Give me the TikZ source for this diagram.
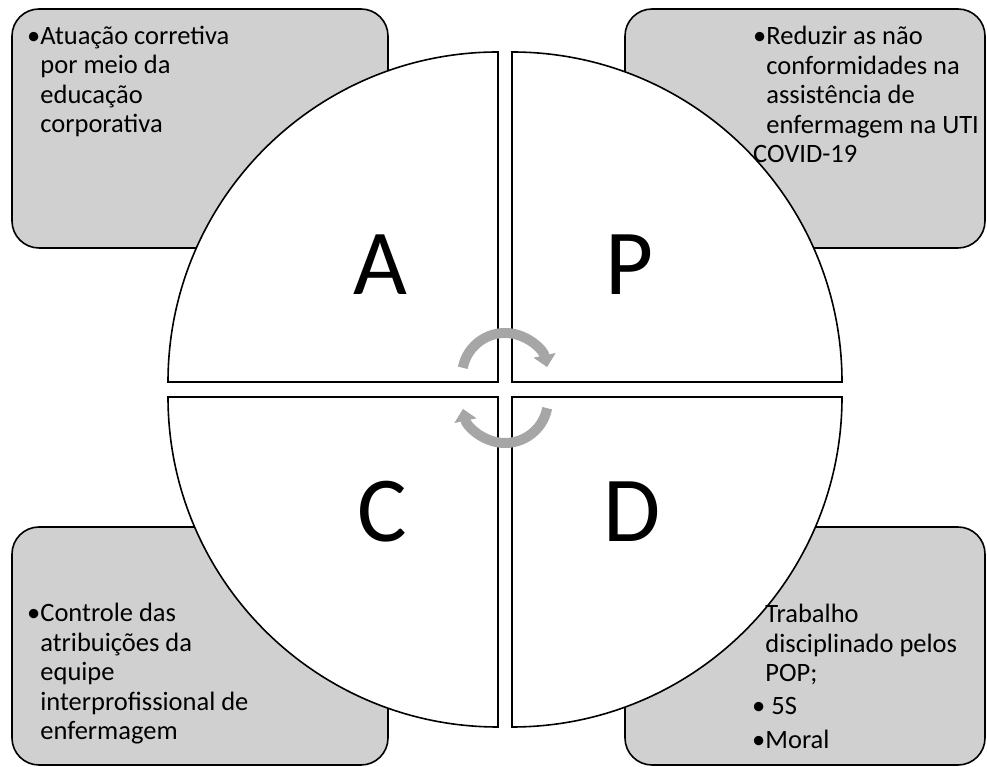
\documentclass[tikz,border=0pt]{standalone}
\usepackage{fontspec}
\setmainfont{Carlito}
\usetikzlibrary{arrows.meta}
\definecolor{boxgray}{HTML}{D0D0D0}
\definecolor{cyclegray}{HTML}{A6A6A6}
\tikzset{box/.style={draw,fill=boxgray,line width=1.6pt,rounded corners=27pt},
quarter/.style={draw,fill=white,line width=1.6pt},
letter/.style={anchor=base,inner sep=0pt,font=\fontsize{93}{93}\selectfont},
info/.style={anchor=base west,align=left,inner sep=0pt,font=\fontsize{26.5}{29.5}\selectfont},
cyclearrow/.style={draw=cyclegray,line width=10pt,-{Triangle[width=22pt,length=12pt]}}}

\begin{document}
\begin{tikzpicture}[x=1pt,y=1pt]
\useasboundingbox (0,0) rectangle (987,767);
% caixas de texto
\draw[box] (12,519) rectangle (388,758);
\draw[box] (625,519) rectangle (985,758);
\draw[box] (12,2) rectangle (388,240);
\draw[box] (625,2) rectangle (985,240);
% circulo PDCA
\filldraw[quarter] (498,385) -- ++(-330,0) arc (180:90:330) -- cycle;
\filldraw[quarter] (512,385) -- ++(0,330) arc (90:0:330) -- cycle;
\filldraw[quarter] (498,370) -- ++(0,-330) arc (270:180:330) -- cycle;
\filldraw[quarter] (512,370) -- ++(330,0) arc (0:-90:330) -- cycle;
\node[letter] (A) at (380,472) {A};
\node[letter] (P) at (630,472) {P};
\node[letter] (C) at (382,225) {C};
\node[letter] (D) at (632,225) {D};
\draw[cyclearrow] (505,391) ++(169:43) arc (169:12:43);
\draw[cyclearrow] (505,367) ++(-11:43) arc (-11:-168:43);
% textos (ancorados na ultima linha)
\node[info] (act) at (27,634) {•Atuação corretiva\\\hphantom{•}por meio da\\\hphantom{•}educação\\\hphantom{•}corporativa};
\node[info] (plan) at (753,604) {•Reduzir as não\\\hphantom{•}conformidades na\\\hphantom{•}assistência de\\\hphantom{•}enfermagem na UTI\\COVID-19};
\node[info] (check) at (27,27) {•Controle das\\\hphantom{•}atribuições da\\\hphantom{•}equipe\\\hphantom{•}interprofissional de\\\hphantom{•}enfermagem};
\node[info] (do) at (752,18) {\hphantom{•}Trabalho\\\hphantom{•}disciplinado pelos\\\hphantom{•}POP;\\[3.5pt]• 5S\\[4.5pt]•Moral};
\end{tikzpicture}
\end{document}
